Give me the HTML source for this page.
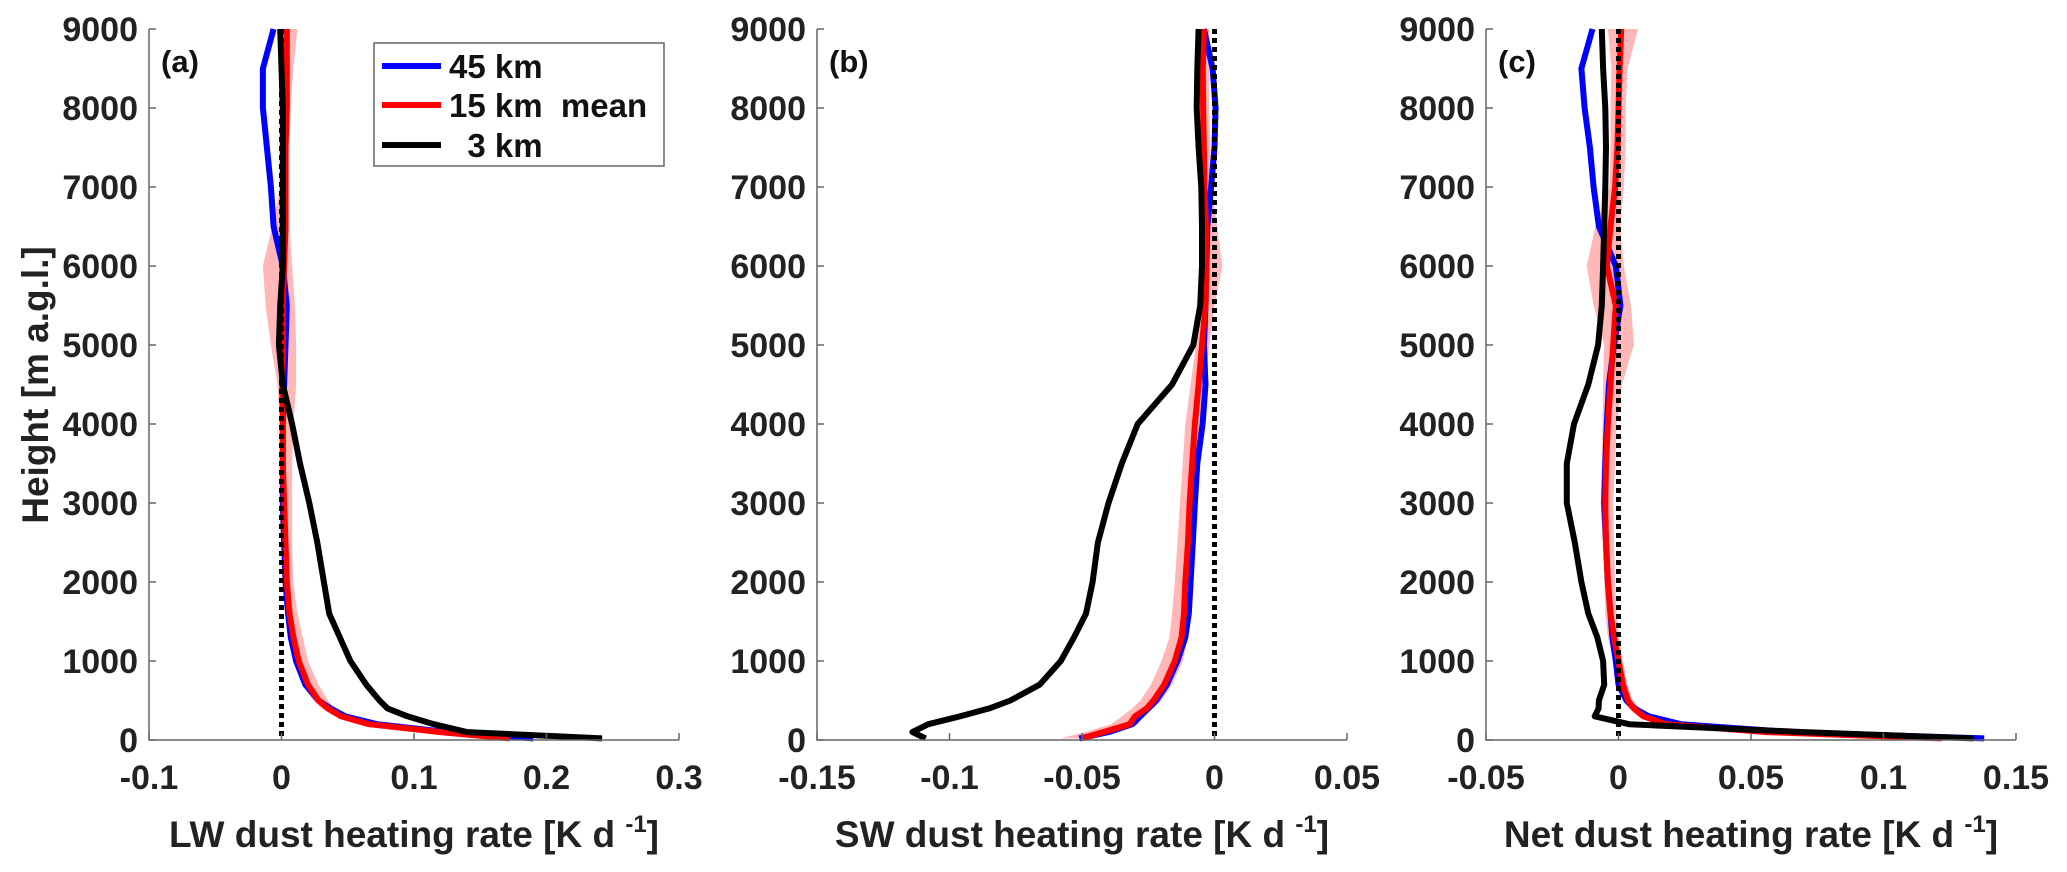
<!DOCTYPE html>
<html><head><meta charset="utf-8"><style>
body{margin:0;background:#fff;}
svg{display:block;font-family:"Liberation Sans",Arial,sans-serif;font-weight:bold;}
</style></head><body>
<svg id="chart" width="2067" height="872" viewBox="0 0 2067 872" xmlns="http://www.w3.org/2000/svg"></svg>
<script>
const heights=[20,100,200,300,400,500,700,1000,1300,1600,2000,2500,3000,3500,4000,4500,5000,5500,6000,6500,7000,7500,8000,8500,9000];
const yTicks=[0,1000,2000,3000,4000,5000,6000,7000,8000,9000];
// panel a (LW)
const aBlue=[0.19,0.125,0.072,0.048,0.037,0.028,0.018,0.011,0.007,0.005,0.003,0.002,0.001,0.001,0.001,0.002,0.003,0.004,0.001,-0.006,-0.008,-0.011,-0.014,-0.014,-0.006];
const aRed=[0.172,0.12,0.066,0.045,0.035,0.028,0.02,0.013,0.009,0.006,0.004,0.003,0.002,0.001,0.001,0.0005,0.001,0.001,0.002,0.003,0.003,0.003,0.004,0.004,0.004];
const aBlack=[0.242,0.14,0.115,0.095,0.08,0.074,0.064,0.052,0.044,0.036,0.032,0.027,0.021,0.014,0.008,0.001,-0.002,-0.001,0.001,0.001,0.001,0.001,0.001,0,-0.001];
const aLo=[0.165,0.112,0.06,0.04,0.03,0.024,0.016,0.01,0.006,0.003,0.002,0.001,0,0,-0.001,-0.003,-0.008,-0.012,-0.014,-0.007,-0.001,0.001,0.002,0.002,0.002];
const aHi=[0.178,0.128,0.072,0.05,0.04,0.035,0.028,0.02,0.016,0.012,0.009,0.008,0.008,0.008,0.009,0.011,0.011,0.01,0.008,0.006,0.006,0.006,0.007,0.009,0.012];
const aTicks=[-0.1,0,0.1,0.2,0.3];
// panel b (SW)
const bBlue=[-0.051,-0.040,-0.031,-0.028,-0.025,-0.022,-0.018,-0.014,-0.011,-0.0097,-0.009,-0.0082,-0.0074,-0.0065,-0.0045,-0.0034,-0.004,-0.0034,-0.003,-0.0027,-0.0013,0,0.0004,-0.0007,-0.004];
const bRed=[-0.050,-0.042,-0.032,-0.030,-0.0256,-0.023,-0.019,-0.015,-0.0124,-0.0115,-0.011,-0.010,-0.0094,-0.0084,-0.0074,-0.006,-0.0047,-0.0034,-0.003,-0.0032,-0.0038,-0.004,-0.0043,-0.0044,-0.004];
const bBlack=[-0.109,-0.114,-0.108,-0.096,-0.085,-0.077,-0.066,-0.058,-0.053,-0.0485,-0.046,-0.044,-0.040,-0.035,-0.029,-0.016,-0.008,-0.0054,-0.0047,-0.0047,-0.005,-0.006,-0.0067,-0.0065,-0.006];
const bLo=[-0.058,-0.049,-0.039,-0.035,-0.031,-0.028,-0.024,-0.020,-0.017,-0.016,-0.015,-0.014,-0.013,-0.012,-0.011,-0.009,-0.007,-0.005,-0.004,-0.005,-0.006,-0.006,-0.006,-0.005,-0.005];
const bHi=[-0.047,-0.039,-0.029,-0.027,-0.023,-0.020,-0.016,-0.012,-0.010,-0.009,-0.0085,-0.0075,-0.007,-0.006,-0.005,-0.0035,-0.002,0,0.003,0.001,-0.001,-0.0015,-0.002,-0.002,-0.002];
const bTicks=[-0.15,-0.1,-0.05,0,0.05];
// panel c (Net)
const cBlue=[0.138,0.065,0.0235,0.0114,0.006,0.003,0,-0.001,-0.0023,-0.003,-0.004,-0.0047,-0.0054,-0.005,-0.0044,-0.0036,-0.0017,0.0007,-0.001,-0.0074,-0.0094,-0.0108,-0.0128,-0.014,-0.0098];
const cRed=[0.122,0.056,0.018,0.0094,0.0058,0.0036,0.0017,0,-0.0017,-0.003,-0.004,-0.0047,-0.005,-0.0047,-0.004,-0.003,-0.002,-0.001,-0.0044,-0.003,-0.0013,-0.0004,0,0.0004,0.001];
const cBlack=[0.134,0.07,0.004,-0.009,-0.0075,-0.0074,-0.0054,-0.0058,-0.008,-0.0114,-0.014,-0.0165,-0.0195,-0.0195,-0.0168,-0.0114,-0.0077,-0.0063,-0.0058,-0.0054,-0.005,-0.0047,-0.005,-0.0058,-0.0063];
const cLo=[0.118,0.053,0.015,0.0074,0.004,0.002,0.0005,-0.002,-0.004,-0.005,-0.0054,-0.006,-0.0067,-0.0063,-0.006,-0.0058,-0.0054,-0.0094,-0.012,-0.0087,-0.0034,-0.003,-0.003,-0.0027,-0.004];
const cHi=[0.126,0.058,0.0208,0.0114,0.008,0.0054,0.0034,0.0017,0,-0.0007,-0.0013,-0.0017,-0.002,-0.0013,-0.0007,0.0013,0.0058,0.0047,0.002,0.0007,0.002,0.0027,0.0027,0.0034,0.0074];
const cTicks=[-0.05,0,0.05,0.1,0.15];

const NS='http://www.w3.org/2000/svg';
const svg=document.getElementById('chart');
const Y0=740,Y1=29;
function yScale(h){return Y0+(Y1-Y0)*h/9000;}
function mk(tag,attrs,parent){const e=document.createElementNS(NS,tag);for(const k in attrs)e.setAttribute(k,attrs[k]);(parent||svg).appendChild(e);return e;}

function panel(id,L,R,xmin,xmax,ticks,blue,red,black,lo,hi,label,xlab){
  const g=mk('g',{});
  
  
  const xs=v=>L+(v-xmin)/(xmax-xmin)*(R-L);
  let d='';
  heights.forEach((h,i)=>{d+=(i?'L':'M')+xs(lo[i]).toFixed(1)+' '+yScale(h).toFixed(1);});
  for(let i=heights.length-1;i>=0;i--)d+='L'+xs(hi[i]).toFixed(1)+' '+yScale(heights[i]).toFixed(1);
  const sh=mk('path',{d:d+'Z',fill:'#ff9999','fill-opacity':0.7,stroke:'none'},g);
  
  
  const line=(arr,col,nm)=>{
    const p=mk('polyline',{points:heights.map((h,i)=>xs(arr[i]).toFixed(1)+','+yScale(h).toFixed(1)).join(' '),fill:'none',stroke:col,'stroke-width':6,'stroke-linejoin':'round'},g);
    
    
  };
  line(blue,'#0000ff','45km');
  line(red,'#ff0000','15km-mean');
  const z=mk('line',{x1:xs(0),x2:xs(0),y1:yScale(9000),y2:Y0,stroke:'#000','stroke-width':5,'stroke-dasharray':'5 4'},g);
  
  
  line(black,'#000000','3km');
  const ax=mk('path',{d:`M${L} ${Y1}L${L} ${Y0}L${R} ${Y0}`,fill:'none',stroke:'#666','stroke-width':1.5},g);
  
  
  ticks.forEach(t=>{
    const x=xs(t);
    mk('line',{x1:x,x2:x,y1:Y0,y2:Y0-7,stroke:'#666','stroke-width':1.5},g);
    const tx=mk('text',{x:x,y:789,'text-anchor':'middle','font-size':34,fill:'#222'},g);
    tx.textContent=String(t);
    
    
  });
  yTicks.forEach(t=>{
    const y=yScale(t);
    mk('line',{x1:L,x2:L+7,y1:y,y2:y,stroke:'#666','stroke-width':1.5},g);
    const tx=mk('text',{x:L-11,y:y+12,'text-anchor':'end','font-size':34,fill:'#222'},g);
    tx.textContent=String(t);
    
    
  });
  const pl=mk('text',{x:L+12,y:72,'font-size':31,fill:'#111'},g);
  pl.textContent=label;
  
  
  const xl=mk('text',{x:(L+R)/2,y:847,'text-anchor':'middle','font-size':37,fill:'#222'},g);
  xl.innerHTML=xlab+' [K d <tspan font-size="24" dy="-15">-1</tspan><tspan dy="15">]</tspan>';
  
  
}
panel('a',149,679,-0.1,0.3,aTicks,aBlue,aRed,aBlack,aLo,aHi,'(a)','LW dust heating  rate');
panel('b',817,1347,-0.15,0.05,bTicks,bBlue,bRed,bBlack,bLo,bHi,'(b)','SW dust heating  rate');
panel('c',1486,2016,-0.05,0.15,cTicks,cBlue,cRed,cBlack,cLo,cHi,'(c)','Net dust heating  rate');

const yt=mk('text',{x:0,y:0,transform:'translate(48,385) rotate(-90)','text-anchor':'middle','font-size':37,fill:'#222'});
yt.textContent='Height  [m a.g.l.]';



const lg=mk('g',{});


mk('rect',{x:374,y:43,width:290,height:123,fill:'#fff',stroke:'#666','stroke-width':1.5},lg);
const legNames=['45 km','15 km  mean','  3 km'];
const legCols=['#0000ff','#ff0000','#000000'];
const legY=[66,105,145];
legNames.forEach((n,i)=>{
  mk('line',{x1:382,x2:441,y1:legY[i],y2:legY[i],stroke:legCols[i],'stroke-width':6},lg);
  const t=mk('text',{x:449,y:legY[i]+12,'font-size':33,fill:'#111'},lg);
  t.setAttribute('style','white-space:pre');
  t.textContent=n;
  
  
});
</script>
</body></html>
